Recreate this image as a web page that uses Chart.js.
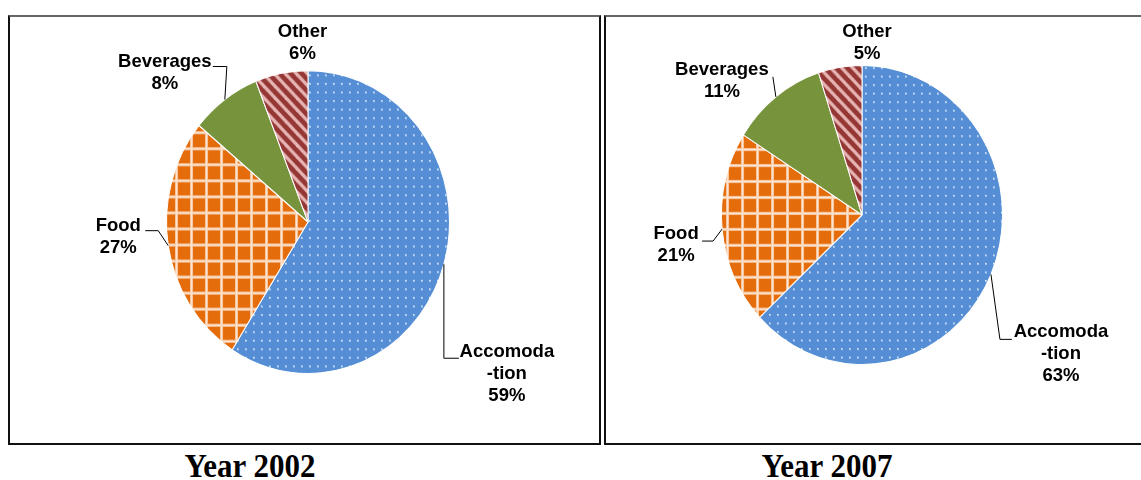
<!DOCTYPE html>
<html>
<head>
<meta charset="utf-8">
<script src="https://cdn.jsdelivr.net/npm/chart.js@4.4.1/dist/chart.umd.min.js"></script>
<style>
  html, body { margin: 0; padding: 0; background: #fff; }
  body { width: 1141px; height: 480px; position: relative; overflow: hidden; }
  .box { position: absolute; top: 15px; height: 426px; border: 2px solid #111; border-top-color: #666; }
  #box1 { left: 8px; width: 589px; }
  #box2 { left: 604px; width: 556px; }
  .box canvas { display: block; }
  .title {
    position: absolute; top: 450px; width: 300px; text-align: center;
    font-family: "Liberation Serif", "Times New Roman", serif; font-weight: bold;
    font-size: 31px; line-height: 31px; color: #000;
    transform: scaleY(1.08);
  }
</style>
</head>
<body>
<div class="box" id="box1"><canvas id="pie2002" width="589" height="426"></canvas></div>
<div class="box" id="box2"><canvas id="pie2007" width="556" height="426"></canvas></div>
<div class="title" style="left:100px">Year 2002</div>
<div class="title" style="left:677px">Year 2007</div>

<script>
// data
const categories = ['Accomoda-tion', 'Food', 'Beverages', 'Other'];
const labelLines = [['Accomoda', '-tion'], ['Food'], ['Beverages'], ['Other']];
const share2002 = [59, 27, 8, 6];
const share2007 = [63, 21, 11, 5];

// fill patterns
function tile(w, h, paint) {
  const c = document.createElement('canvas');
  c.width = w; c.height = h;
  paint(c.getContext('2d'));
  return c.getContext('2d').createPattern(c, 'repeat');
}

const dotted = tile(8, 8, g => {
  g.fillStyle = '#558ed5'; g.fillRect(0, 0, 8, 8);
  g.fillStyle = 'rgba(225,236,252,0.55)'; g.fillRect(3, 3, 2, 2);
  g.fillStyle = 'rgba(240,246,255,0.8)'; g.fillRect(3, 3, 1, 1);
});
const grid = tile(15, 15, g => {
  g.fillStyle = '#e46c0a'; g.fillRect(0, 0, 15, 15);
  g.fillStyle = '#f7c49b'; g.fillRect(0, 0, 3, 15); g.fillRect(0, 0, 15, 3);
  g.fillStyle = '#fde6d3'; g.fillRect(1, 0, 1, 15); g.fillRect(0, 1, 15, 1);
});
const striped = tile(11, 11, g => {
  g.fillStyle = '#953735'; g.fillRect(0, 0, 11, 11);
  g.strokeStyle = '#e6b4b3'; g.lineWidth = 3.2;
  [-11, 0, 11].forEach(c => {
    g.beginPath(); g.moveTo(c - 2, -2); g.lineTo(c + 13, 13); g.stroke();
  });
});
const colors = [dotted, grid, '#77933c', striped];

// stretch the pie a little taller than wide, like the picture
const stretch = {
  id: 'stretch',
  beforeDatasetsDraw(chart, args, opts) {
    const a = chart.getDatasetMeta(0).data[0];
    const ctx = chart.ctx;
    ctx.save();
    ctx.translate(a.x, a.y);
    ctx.scale(1, opts.sy);
    ctx.translate(-a.x, -a.y);
  },
  afterDatasetsDraw(chart) { chart.ctx.restore(); }
};

// labels with leader lines, anchored on the slice edge at its mid angle
const pieLabels = {
  id: 'pieLabels',
  afterDraw(chart, args, opts) {
    const ctx = chart.ctx;
    const sy = chart.options.plugins.stretch.sy;
    const values = chart.data.datasets[0].data;
    ctx.save();
    ctx.font = 'bold 18.5px "Liberation Sans", Arial, sans-serif';
    ctx.textAlign = 'center';
    ctx.textBaseline = 'middle';
    ctx.fillStyle = '#000';
    ctx.strokeStyle = '#000';
    ctx.lineWidth = 1;
    chart.getDatasetMeta(0).data.forEach((arc, i) => {
      const mid = (arc.startAngle + arc.endAngle) / 2;
      const ex = arc.x + Math.cos(mid) * arc.outerRadius;
      const ey = arc.y + Math.sin(mid) * arc.outerRadius * sy;
      const L = opts.layout[i];
      const lines = labelLines[i].concat([values[i] + '%']);
      lines.forEach((t, k) => ctx.fillText(t, ex + L.dx, ey + L.dy + k * 22));
      if (L.lead) {
        ctx.beginPath();
        ctx.moveTo(ex, ey);
        L.lead.forEach(p => ctx.lineTo(ex + p[0], ey + p[1]));
        ctx.stroke();
      }
    });
    ctx.restore();
  }
};

function makePie(id, values, pad, sy, layout) {
  return new Chart(document.getElementById(id), {
    type: 'pie',
    data: {
      labels: categories,
      datasets: [{
        data: values,
        backgroundColor: colors,
        borderColor: '#ffffff',
        borderWidth: 1
      }]
    },
    options: {
      responsive: false,
      animation: false,
      layout: { padding: pad },
      plugins: {
        legend: { display: false },
        tooltip: { enabled: false },
        stretch: { sy: sy },
        pieLabels: { layout: layout }
      }
    },
    plugins: [stretch, pieLabels]
  });
}

makePie('pie2002', share2002, { left: 156, right: 149, top: 63, bottom: 79 }, 1.07, [
  { dx: 63, dy: 88, lead: [[0, 94], [15, 94]] },
  { dx: -50, dy: -20, lead: [[-10, -15], [-23, -15]] },
  { dx: -60, dy: -38, lead: [[2, -33], [-12, -33]] },
  { dx: 21, dy: -41 }
]);

makePie('pie2007', share2007, { left: 115, right: 159, top: 57, bottom: 87 }, 1.064, [
  { dx: 70, dy: 58, lead: [[9, 65], [21, 65]] },
  { dx: -46, dy: 5, lead: [[-9, 12], [-20, 12]] },
  { dx: -54, dy: -27, lead: [[-3, -20]] },
  { dx: 27, dy: -35 }
]);
</script>
</body>
</html>
